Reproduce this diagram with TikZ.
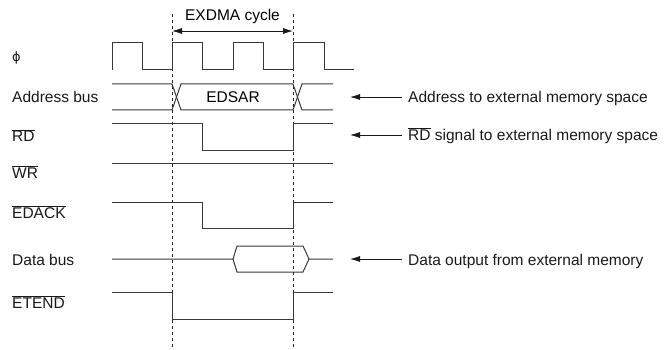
\documentclass[tikz,border=0pt]{standalone}
\usepackage{fontspec}
\setmainfont{Liberation Sans}
\newfontfamily\symfont{DejaVu Sans}
\usetikzlibrary{arrows.meta}
\newcommand{\ovl}[1]{$\overline{\hbox{#1}}$}
\begin{document}
\begin{tikzpicture}[x=1pt,y=-1pt,
  font=\fontsize{15.5}{18}\selectfont,
  wave/.style={draw=black!78,line width=1pt,line join=miter},
  guide/.style={draw=black!85,line width=0.7pt,dash pattern=on 3pt off 3pt},
  lbl/.style={anchor=base west,inner sep=0pt,text=black!90},
  dimarrow/.style={draw=black!90,line width=0.8pt,{Latex[length=10pt,width=6pt]}-{Latex[length=10pt,width=6pt]}},
  notearrow/.style={draw=black!90,line width=0.8pt,{Latex[length=10pt,width=6pt]}-}]
\useasboundingbox (0,0) rectangle (666,350);
% guides
\coordinate (g1t) at (172,14);
\coordinate (g1b) at (172,350);
\coordinate (g2t) at (293,14);
\coordinate (g2b) at (293,350);
\draw[guide] (g1t) -- (g1b);
\draw[guide] (g2t) -- (g2b);
% cycle dimension
\coordinate (c1) at (172,31);
\coordinate (c2) at (293,31);
\draw[dimarrow] (c1) -- (c2);
\node[inner sep=0pt] (cyc) at (232.5,16) {EXDMA cycle};
% left labels
\node[lbl] (lphi) at (12,62) {{\symfont\fontsize{13}{15}\selectfont\char"03D5}};
\node[lbl] (laddr) at (12,102.5) {Address bus};
\node[lbl] (lrd) at (12,142) {\ovl{RD}};
\node[lbl] (lwr) at (12,178) {\ovl{WR}};
\node[lbl] (ledack) at (12,218) {\ovl{EDACK}};
\node[lbl] (ldata) at (12,265) {Data bus};
\node[lbl] (letend) at (12,308) {\ovl{ETEND}};
% phi clock
\draw[wave] (112,70) -- (112,43) -- (142,43) -- (142,70) -- (172,70) -- (172,43)
  -- (202,43) -- (202,70) -- (233,70) -- (233,43) -- (263,43) -- (263,70)
  -- (293,70) -- (293,43) -- (324,43) -- (324,70) -- (354,70);
% address bus
\draw[wave] (112,84) -- (172,84) -- (181,110) -- (293,110) -- (302,84) -- (333,84);
\draw[wave] (112,110) -- (172,110) -- (181,84) -- (293,84) -- (302,110) -- (333,110);
\node[inner sep=0pt] (edsar) at (233,97) {EDSAR};
% RD
\draw[wave] (112,124) -- (202,124) -- (202,150) -- (293,150) -- (293,124) -- (333,124);
% WR
\draw[wave] (112,163) -- (333,163);
% EDACK
\draw[wave] (112,202) -- (202,202) -- (202,228) -- (293,228) -- (293,202) -- (333,202);
% data bus
\draw[wave] (112,259) -- (233,259) -- (237,246) -- (303,246) -- (309,259) -- (333,259);
\draw[wave] (233,259) -- (237,272) -- (303,272) -- (309,259);
% ETEND
\draw[wave] (112,292) -- (172,292) -- (172,319) -- (293,319) -- (293,292) -- (333,292);
% right notes
\node[lbl] (naddr) at (408,102.5) {Address to external memory space};
\node[lbl] (nrd) at (408,140.5) {\ovl{RD} signal to external memory space};
\node[lbl] (ndata) at (408,265) {Data output from external memory};
\coordinate (taddr) at (350,97);
\coordinate (trd) at (350,135);
\coordinate (tdata) at (350,259);
\coordinate (eaddr) at (402,97);
\coordinate (erd) at (402,135);
\coordinate (edata) at (402,259);
\draw[notearrow] (taddr) -- (eaddr);
\draw[notearrow] (trd) -- (erd);
\draw[notearrow] (tdata) -- (edata);
\end{tikzpicture}
\end{document}
